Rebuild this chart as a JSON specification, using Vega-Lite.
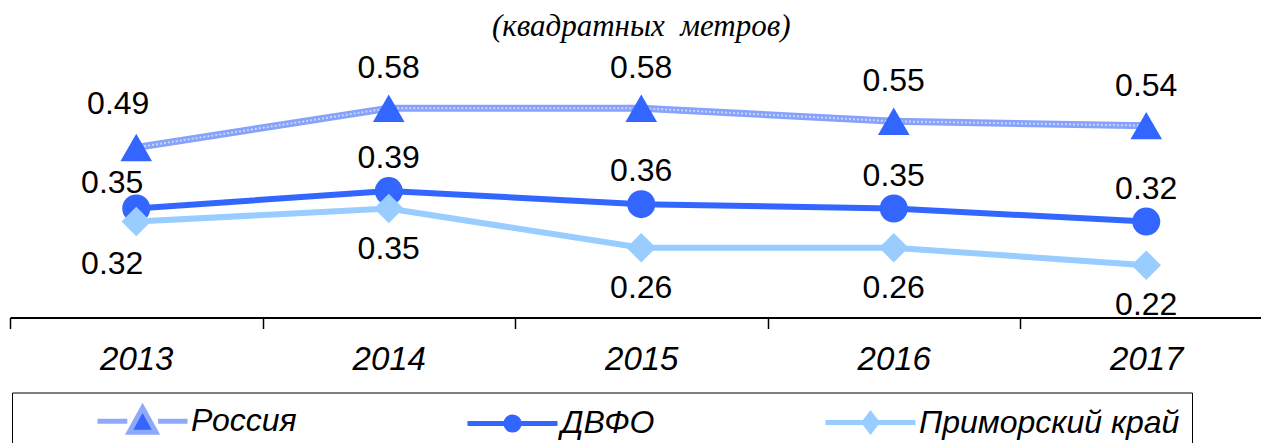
{
  "$schema": "https://vega.github.io/schema/vega-lite/v6.json",
  "width": 1262.5,
  "height": 218,
  "autosize": "none",
  "padding": {"left": 10, "top": 99.5, "right": 0, "bottom": 125.5},
  "background": "white",
  "title": {
    "text": "(квадратных\u00a0 метров)",
    "font": "Liberation Serif",
    "fontStyle": "italic",
    "fontWeight": "normal",
    "fontSize": 31,
    "color": "black",
    "anchor": "middle",
    "frame": "group",
    "offset": 9
  },
  "config": {"view": {"stroke": null}},
  "data": {
    "values": [
      {"year": "2013", "series": "Россия", "value": 0.49},
      {"year": "2014", "series": "Россия", "value": 0.58},
      {"year": "2015", "series": "Россия", "value": 0.58},
      {"year": "2016", "series": "Россия", "value": 0.55},
      {"year": "2017", "series": "Россия", "value": 0.54},
      {"year": "2013", "series": "ДВФО", "value": 0.35},
      {"year": "2014", "series": "ДВФО", "value": 0.39},
      {"year": "2015", "series": "ДВФО", "value": 0.36},
      {"year": "2016", "series": "ДВФО", "value": 0.35},
      {"year": "2017", "series": "ДВФО", "value": 0.32},
      {"year": "2013", "series": "Приморский край", "value": 0.32},
      {"year": "2014", "series": "Приморский край", "value": 0.35},
      {"year": "2015", "series": "Приморский край", "value": 0.26},
      {"year": "2016", "series": "Приморский край", "value": 0.26},
      {"year": "2017", "series": "Приморский край", "value": 0.22}
    ]
  },
  "encoding": {
    "x": {
      "field": "year",
      "type": "ordinal",
      "scale": {"type": "band", "paddingInner": 0, "paddingOuter": 0},
      "axis": {
        "title": null,
        "labelAngle": 0,
        "domainColor": "black",
        "domainWidth": 2,
        "tickColor": "black",
        "tickWidth": 1.5,
        "tickSize": 11,
        "tickBand": "extent",
        "labelFont": "Liberation Sans",
        "labelFontStyle": "italic",
        "labelFontSize": 33,
        "labelColor": "black",
        "labelPadding": 15
      }
    },
    "y": {
      "field": "value",
      "type": "quantitative",
      "scale": {"domain": [0.1, 0.6], "nice": false, "zero": false},
      "axis": null
    }
  },
  "layer": [
    {
      "transform": [{"filter": "datum.series === 'Россия'"}],
      "mark": {"type": "line", "color": "#86a2fa", "strokeWidth": 7}
    },
    {
      "transform": [{"filter": "datum.series === 'Россия'"}],
      "mark": {"type": "line", "color": "white", "strokeWidth": 2, "strokeDash": [2, 2], "opacity": 0.55}
    },
    {
      "transform": [{"filter": "datum.series !== 'Россия'"}],
      "mark": {"type": "line", "strokeWidth": 6},
      "encoding": {
        "stroke": {
          "field": "series",
          "type": "nominal",
          "scale": {"domain": ["Россия", "ДВФО", "Приморский край"], "range": ["#8fa9fa", "#3366ff", "#99ccff"]},
          "legend": {
            "title": null,
            "orient": "none",
            "legendX": 2,
            "legendY": 293,
            "direction": "horizontal",
            "strokeColor": "black",
            "fillColor": "white",
            "padding": 12,
            "columnPadding": 97,
            "symbolSize": 784,
            "symbolStrokeWidth": 5,
            "labelOffset": 134,
            "labelFont": "Liberation Sans",
            "labelFontStyle": "italic",
            "labelFontSize": 32,
            "labelColor": "black",
            "labelLimit": 400,
            "encode": {
              "symbols": {
                "update": {
                  "shape": {"signal": "datum.value === 'Россия' ? 'M4.07,0H6.2M8.4,0H10.5M7.29,-0.95L8.25,0.8L6.33,0.8Z' : datum.value === 'ДВФО' ? 'M4.07,0H10.5M6.82,0A0.47,0.47 0 1,0 7.76,0A0.47,0.47 0 1,0 6.82,0Z' : 'M4.07,0H10.5M7.29,-0.6L7.75,0L7.29,0.6L6.83,0Z'"},
                  "fill": {"signal": "datum.value === 'Россия' ? '#3366ff' : scale('stroke', datum.value)"},
                  "strokeWidth": {"value": 5},
                  "opacity": {"value": 1}
                }
              }
            }
          }
        }
      }
    },
    {
      "transform": [{"filter": "datum.series === 'Россия'"}],
      "mark": {"type": "point", "shape": "triangle-up", "size": 1000, "filled": true, "opacity": 1, "color": "#3366ff"}
    },
    {
      "transform": [{"filter": "datum.series === 'ДВФО'"}],
      "mark": {"type": "point", "shape": "circle", "size": 784, "filled": true, "opacity": 1, "color": "#3366ff"}
    },
    {
      "transform": [{"filter": "datum.series === 'Приморский край'"}],
      "mark": {"type": "point", "shape": "diamond", "size": 870, "filled": true, "opacity": 1, "color": "#99ccff"}
    },
    {
      "transform": [{"filter": "datum.series === 'Россия' && datum.year !== '2013'"}],
      "mark": {"type": "text", "font": "Liberation Sans", "fontSize": 32, "color": "black", "baseline": "middle", "dy": -40},
      "encoding": {"text": {"field": "value", "type": "quantitative", "format": ".2f"}}
    },
    {
      "transform": [{"filter": "datum.series === 'ДВФО' && datum.year !== '2013'"}],
      "mark": {"type": "text", "font": "Liberation Sans", "fontSize": 32, "color": "black", "baseline": "middle", "dy": -33},
      "encoding": {"text": {"field": "value", "type": "quantitative", "format": ".2f"}}
    },
    {
      "transform": [{"filter": "datum.series === 'Приморский край' && datum.year !== '2013'"}],
      "mark": {"type": "text", "font": "Liberation Sans", "fontSize": 32, "color": "black", "baseline": "middle", "dy": 40},
      "encoding": {"text": {"field": "value", "type": "quantitative", "format": ".2f"}}
    },
    {
      "transform": [{"filter": "datum.series === 'Россия' && datum.year === '2013'"}],
      "mark": {"type": "text", "font": "Liberation Sans", "fontSize": 32, "color": "black", "baseline": "middle", "dy": -43, "dx": -18},
      "encoding": {"text": {"field": "value", "type": "quantitative", "format": ".2f"}}
    },
    {
      "transform": [{"filter": "datum.series === 'ДВФО' && datum.year === '2013'"}],
      "mark": {"type": "text", "font": "Liberation Sans", "fontSize": 32, "color": "black", "baseline": "middle", "dy": -26, "dx": -24},
      "encoding": {"text": {"field": "value", "type": "quantitative", "format": ".2f"}}
    },
    {
      "transform": [{"filter": "datum.series === 'Приморский край' && datum.year === '2013'"}],
      "mark": {"type": "text", "font": "Liberation Sans", "fontSize": 32, "color": "black", "baseline": "middle", "dy": 42, "dx": -24},
      "encoding": {"text": {"field": "value", "type": "quantitative", "format": ".2f"}}
    }
  ]
}
